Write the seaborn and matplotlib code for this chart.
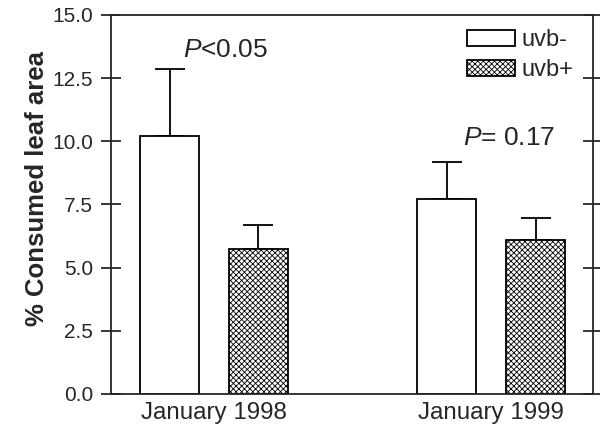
import matplotlib
matplotlib.use("Agg")
import matplotlib.pyplot as plt
import seaborn as sns
import pandas as pd

periods = ["January 1998", "January 1999"]
treatments = ["uvb-", "uvb+"]
means_uvb_minus = [10.2, 7.72]
means_uvb_plus = [5.72, 6.1]
err_uvb_minus = [2.65, 1.47]
err_uvb_plus = [0.98, 0.88]
annotations = ["$\\mathit{P}$<0.05", "$\\mathit{P}$= 0.17"]
yticks = [0.0, 2.5, 5.0, 7.5, 10.0, 12.5, 15.0]

sns.set_style("ticks")
plt.rcParams['font.family'] = ['Liberation Sans', 'DejaVu Sans']
plt.rcParams['mathtext.fontset'] = 'custom'
plt.rcParams['mathtext.it'] = 'Liberation Sans:italic'
plt.rcParams['mathtext.rm'] = 'Liberation Sans'
plt.rcParams['hatch.linewidth'] = 0.6

df = pd.DataFrame({
    "period": periods * 2,
    "treatment": [treatments[0]] * 2 + [treatments[1]] * 2,
    "value": means_uvb_minus + means_uvb_plus,
})
errs = {treatments[0]: err_uvb_minus, treatments[1]: err_uvb_plus}

fig = plt.figure(figsize=(6, 4.25), dpi=100)
ax = fig.add_axes([0.185, 0.073, 0.803, 0.892])

sns.barplot(data=df, x="period", y="value", hue="treatment", order=periods,
            hue_order=treatments, palette=["white", "white"], edgecolor="black",
            linewidth=1.3, width=0.64, gap=0.336, errorbar=None, legend=False,
            saturation=1, ax=ax)

bar_containers = list(ax.containers)
for cont, tr in zip(bar_containers, treatments):
    for bar, e in zip(cont, errs[tr]):
        if tr == "uvb+":
            bar.set_hatch("xxxxxx")
        xc = bar.get_x() + bar.get_width() / 2
        h = bar.get_height()
        ax.errorbar([xc], [h], yerr=[[0], [e]], fmt="none", ecolor="black",
                    elinewidth=1.3, capsize=10.5, capthick=1.3, zorder=0.5)

handles = [cont.patches[0] for cont in bar_containers]
ax.legend(handles, treatments, loc="upper right", bbox_to_anchor=(0.99, 1.0),
          frameon=False, fontsize=17, handlelength=2.03, handleheight=0.64,
          handletextpad=0.3, labelspacing=0.35, borderaxespad=0.3,
          borderpad=0.3)

ax.text(-0.112, 13.34, annotations[0], fontsize=19, ha="left", va="baseline")
ax.text(0.897, 9.85, annotations[1], fontsize=19, ha="left", va="baseline")

ax.set_xlim(-0.371, 1.366)
ax.set_ylim(0, 15)
ax.set_yticks(yticks)
ax.set_yticklabels([f"{t:.1f}" for t in yticks], fontsize=15)
ax.tick_params(axis="y", direction="inout", length=14.4, width=1.3, pad=5.8,
               right=True, left=True)
ax.tick_params(axis="x", length=0, pad=6, labelsize=17.4)
for s in ax.spines.values():
    s.set_visible(True)
    s.set_linewidth(1.3)
ax.set_xlabel("")
ax.set_ylabel("% Consumed leaf area", fontsize=18.5, fontweight="bold")
ax.yaxis.set_label_coords(-0.129, 0.542)

fig.savefig("out.png", dpi=100)
